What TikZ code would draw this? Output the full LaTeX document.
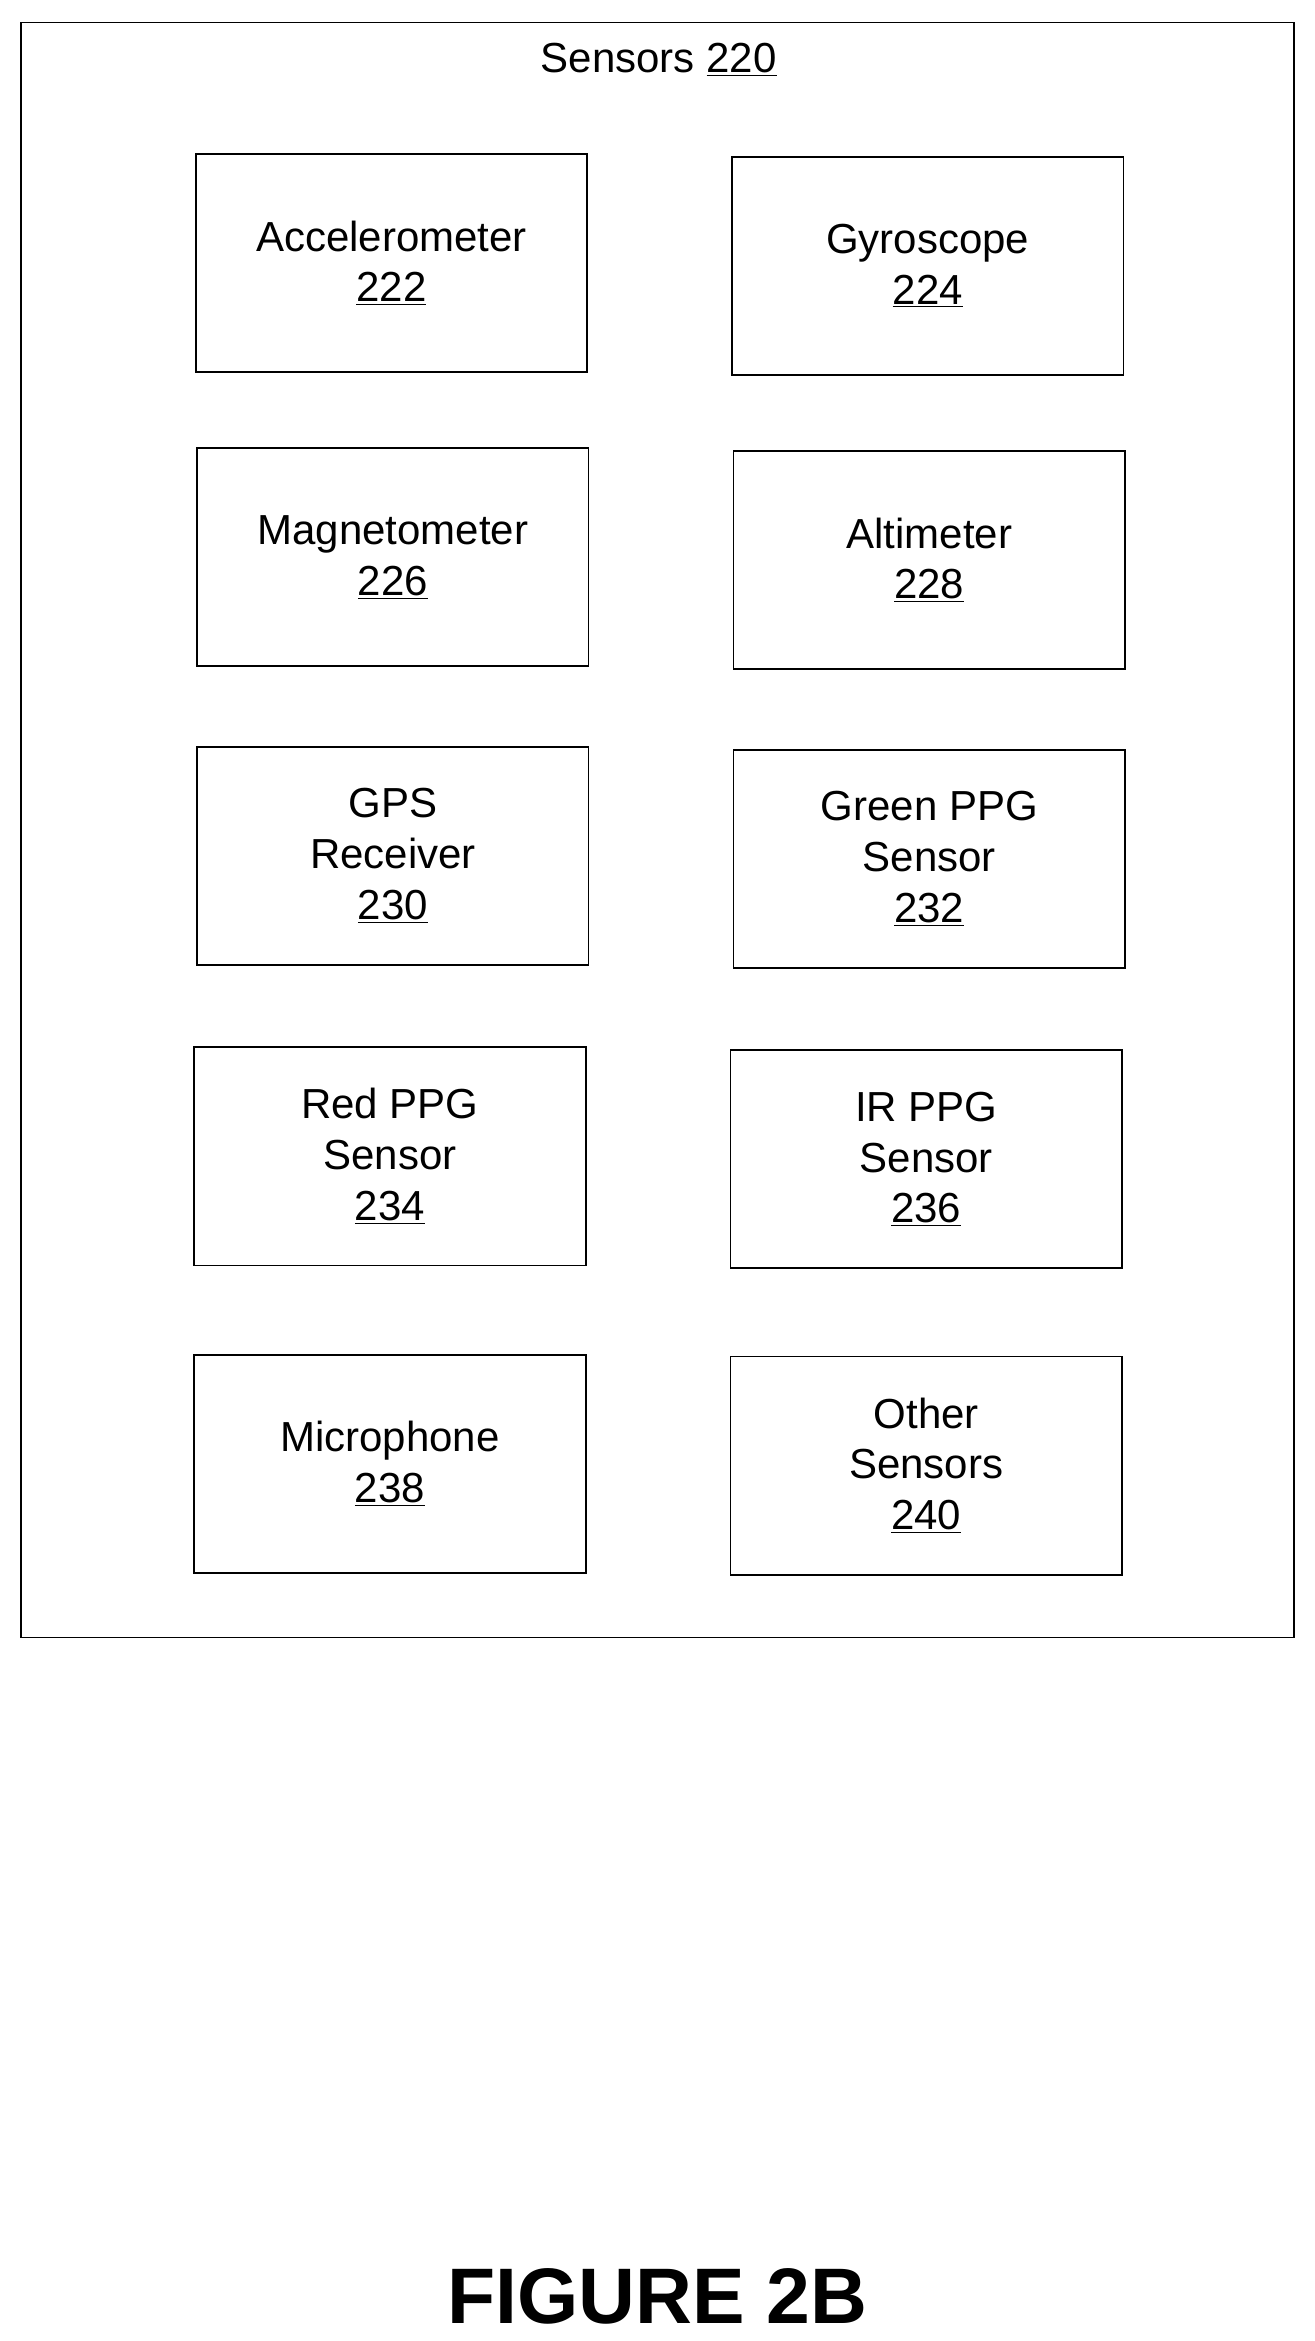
\documentclass[tikz,border=0pt]{standalone}
\usepackage{fontspec}
\setmainfont{Liberation Sans}
\tikzset{
  sensorbox/.style={draw, line width=1pt, minimum width=262*0.03cm, minimum height=146*0.03cm,
    align=center, font=\fontsize{24}{29}\selectfont}
}
\begin{document}
\begin{tikzpicture}[x=0.03cm, y=-0.03cm]
  \useasboundingbox (0, 0) rectangle (880, 1567);
  \draw [line width=1pt] (14, 15) rectangle (866, 1096);
  \node [font=\fontsize{24}{29}\selectfont] (title) at (441, 40) {Sensors \underline{220}};

  \node [sensorbox] (acc) at (262, 176) {Accelerometer\\\underline{222}};
  \node [sensorbox] (gyro) at (621, 178) {Gyroscope\\\underline{224}};
  \node [sensorbox] (mag) at (263, 373) {Magnetometer\\\underline{226}};
  \node [sensorbox] (alt) at (622, 375) {Altimeter\\\underline{228}};
  \node [sensorbox] (gps) at (263, 573) {GPS\\Receiver\\\underline{230}};
  \node [sensorbox] (green) at (622, 575) {Green PPG\\Sensor\\\underline{232}};
  \node [sensorbox] (red) at (261, 774) {Red PPG\\Sensor\\\underline{234}};
  \node [sensorbox] (ir) at (620, 776) {IR PPG\\Sensor\\\underline{236}};
  \node [sensorbox] (mic) at (261, 980) {Microphone\\\underline{238}};
  \node [sensorbox] (other) at (620, 981) {Other\\Sensors\\\underline{240}};

  \node [font=\fontsize{45}{54}\selectfont\bfseries] (fig) at (440, 1537) {FIGURE 2B};
\end{tikzpicture}
\end{document}
